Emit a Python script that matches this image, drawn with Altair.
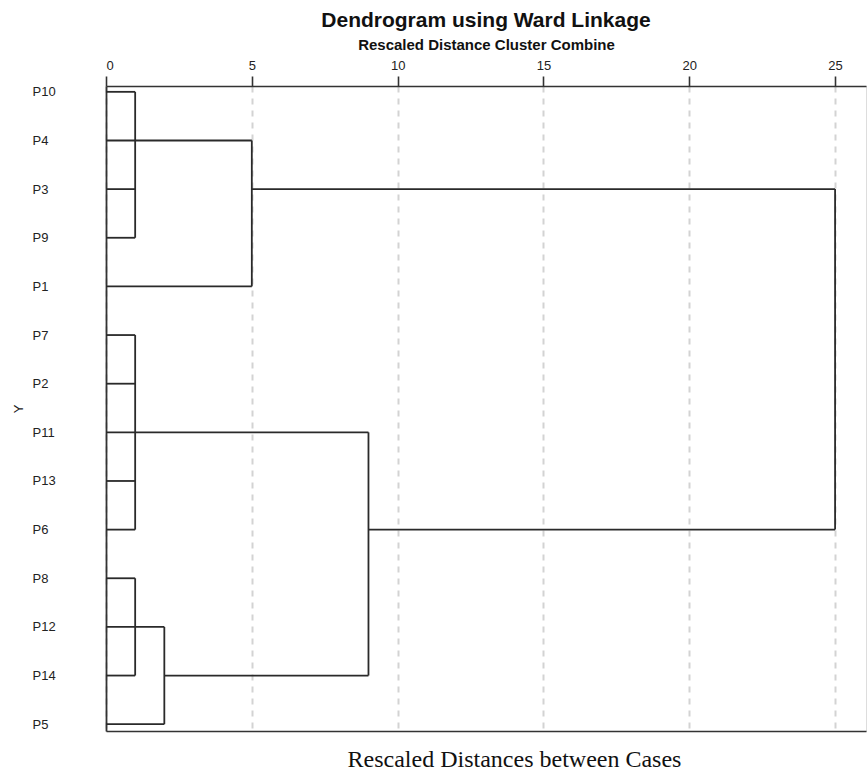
import altair as alt
import pandas as pd

# leaf order, top to bottom
cases = ["P10", "P4", "P3", "P9", "P1", "P7", "P2", "P11", "P13", "P6",
         "P8", "P12", "P14", "P5"]

# dendrogram segments: rescaled distance (x) and row index (r)
seg_x1 = [0, 0, 0, 5, 0, 0, 0, 0, 0, 0, 0, 9, 0, 0, 0, 2, 0,
          1, 5, 25, 1, 9, 1, 2]
seg_x2 = [1, 5, 1, 25, 1, 5, 1, 1, 9, 1, 1, 25, 1, 2, 1, 9, 2,
          1, 5, 25, 1, 9, 1, 2]
seg_r1 = [0, 1, 2, 2, 3, 4, 5, 6, 7, 8, 9, 9, 10, 11, 12, 12, 13,
          0, 1, 2, 5, 7, 10, 11]
seg_r2 = [0, 1, 2, 2, 3, 4, 5, 6, 7, 8, 9, 9, 10, 11, 12, 12, 13,
          3, 4, 9, 9, 12, 12, 13]

x_ticks = [0, 5, 10, 15, 20, 25]

df = pd.DataFrame({"x1": seg_x1, "x2": seg_x2, "r1": seg_r1, "r2": seg_r2})

label_expr = "[" + ",".join(f"'{c}'" for c in cases) + "][datum.value]"

xscale = alt.Scale(domain=[0, 26.06], nice=False, zero=False)
yscale = alt.Scale(domain=[-0.12, 13.14], reverse=True, nice=False, zero=False)

dendro = alt.Chart(df).mark_rule(color="#2a2a2a", strokeWidth=1.8).encode(
    x=alt.X("x1:Q", scale=xscale,
            axis=alt.Axis(orient="top", values=x_ticks, format="d",
                          title="Rescaled Distance Cluster Combine",
                          titleFont="Liberation Sans", titleFontSize=15,
                          titleFontWeight="bold", titleColor="#111111",
                          titlePadding=7,
                          labelFont="Liberation Sans", labelFontSize=13,
                          labelColor="#222222", labelPadding=4,
                          tickSize=10, tickColor="#333333", tickWidth=1.6,
                          domainColor="#333333", domainWidth=1.6,
                          grid=True, gridDash=[6, 6], gridColor="#d3d3d3",
                          gridWidth=2)),
    x2="x2:Q",
    y=alt.Y("r1:Q", scale=yscale,
            axis=alt.Axis(values=list(range(len(cases))), labelExpr=label_expr,
                          title="Y", titleFont="Liberation Sans",
                          titleFontSize=13, titleFontWeight="normal",
                          titleColor="#222222", titlePadding=7,
                          labelFont="Liberation Sans", labelFontSize=13,
                          labelColor="#222222", labelAlign="left",
                          labelPadding=74, ticks=False, grid=False,
                          domainColor="#333333", domainWidth=1.8)),
    y2="r2:Q",
)

bottom = alt.Chart(df).mark_rule(opacity=0).encode(
    x=alt.X("x2:Q", scale=xscale,
            axis=alt.Axis(orient="bottom", labels=False, ticks=False,
                          grid=False, title="Rescaled Distances between Cases",
                          titleFont="Liberation Serif", titleFontSize=24,
                          titleFontWeight="normal", titleColor="#111111",
                          titlePadding=16, titleX=408, titleAlign="center",
                          domainColor="#333333", domainWidth=1.6)),
)

chart = alt.layer(dendro, bottom).resolve_axis(x="independent").properties(
    width=760,
    height=645,
    title=alt.TitleParams("Dendrogram using Ward Linkage",
                          font="Liberation Sans", fontSize=21,
                          fontWeight="bold", color="#111111",
                          anchor="middle", offset=6),
    autosize=alt.AutoSizeParams(type="none"),
    padding={"left": 106, "top": 86, "right": 1, "bottom": 44},
).configure_view(stroke="transparent", fill="#efefef").configure(
    background="white")

chart.save("out.html", embed_options={"renderer": "svg", "actions": False})
